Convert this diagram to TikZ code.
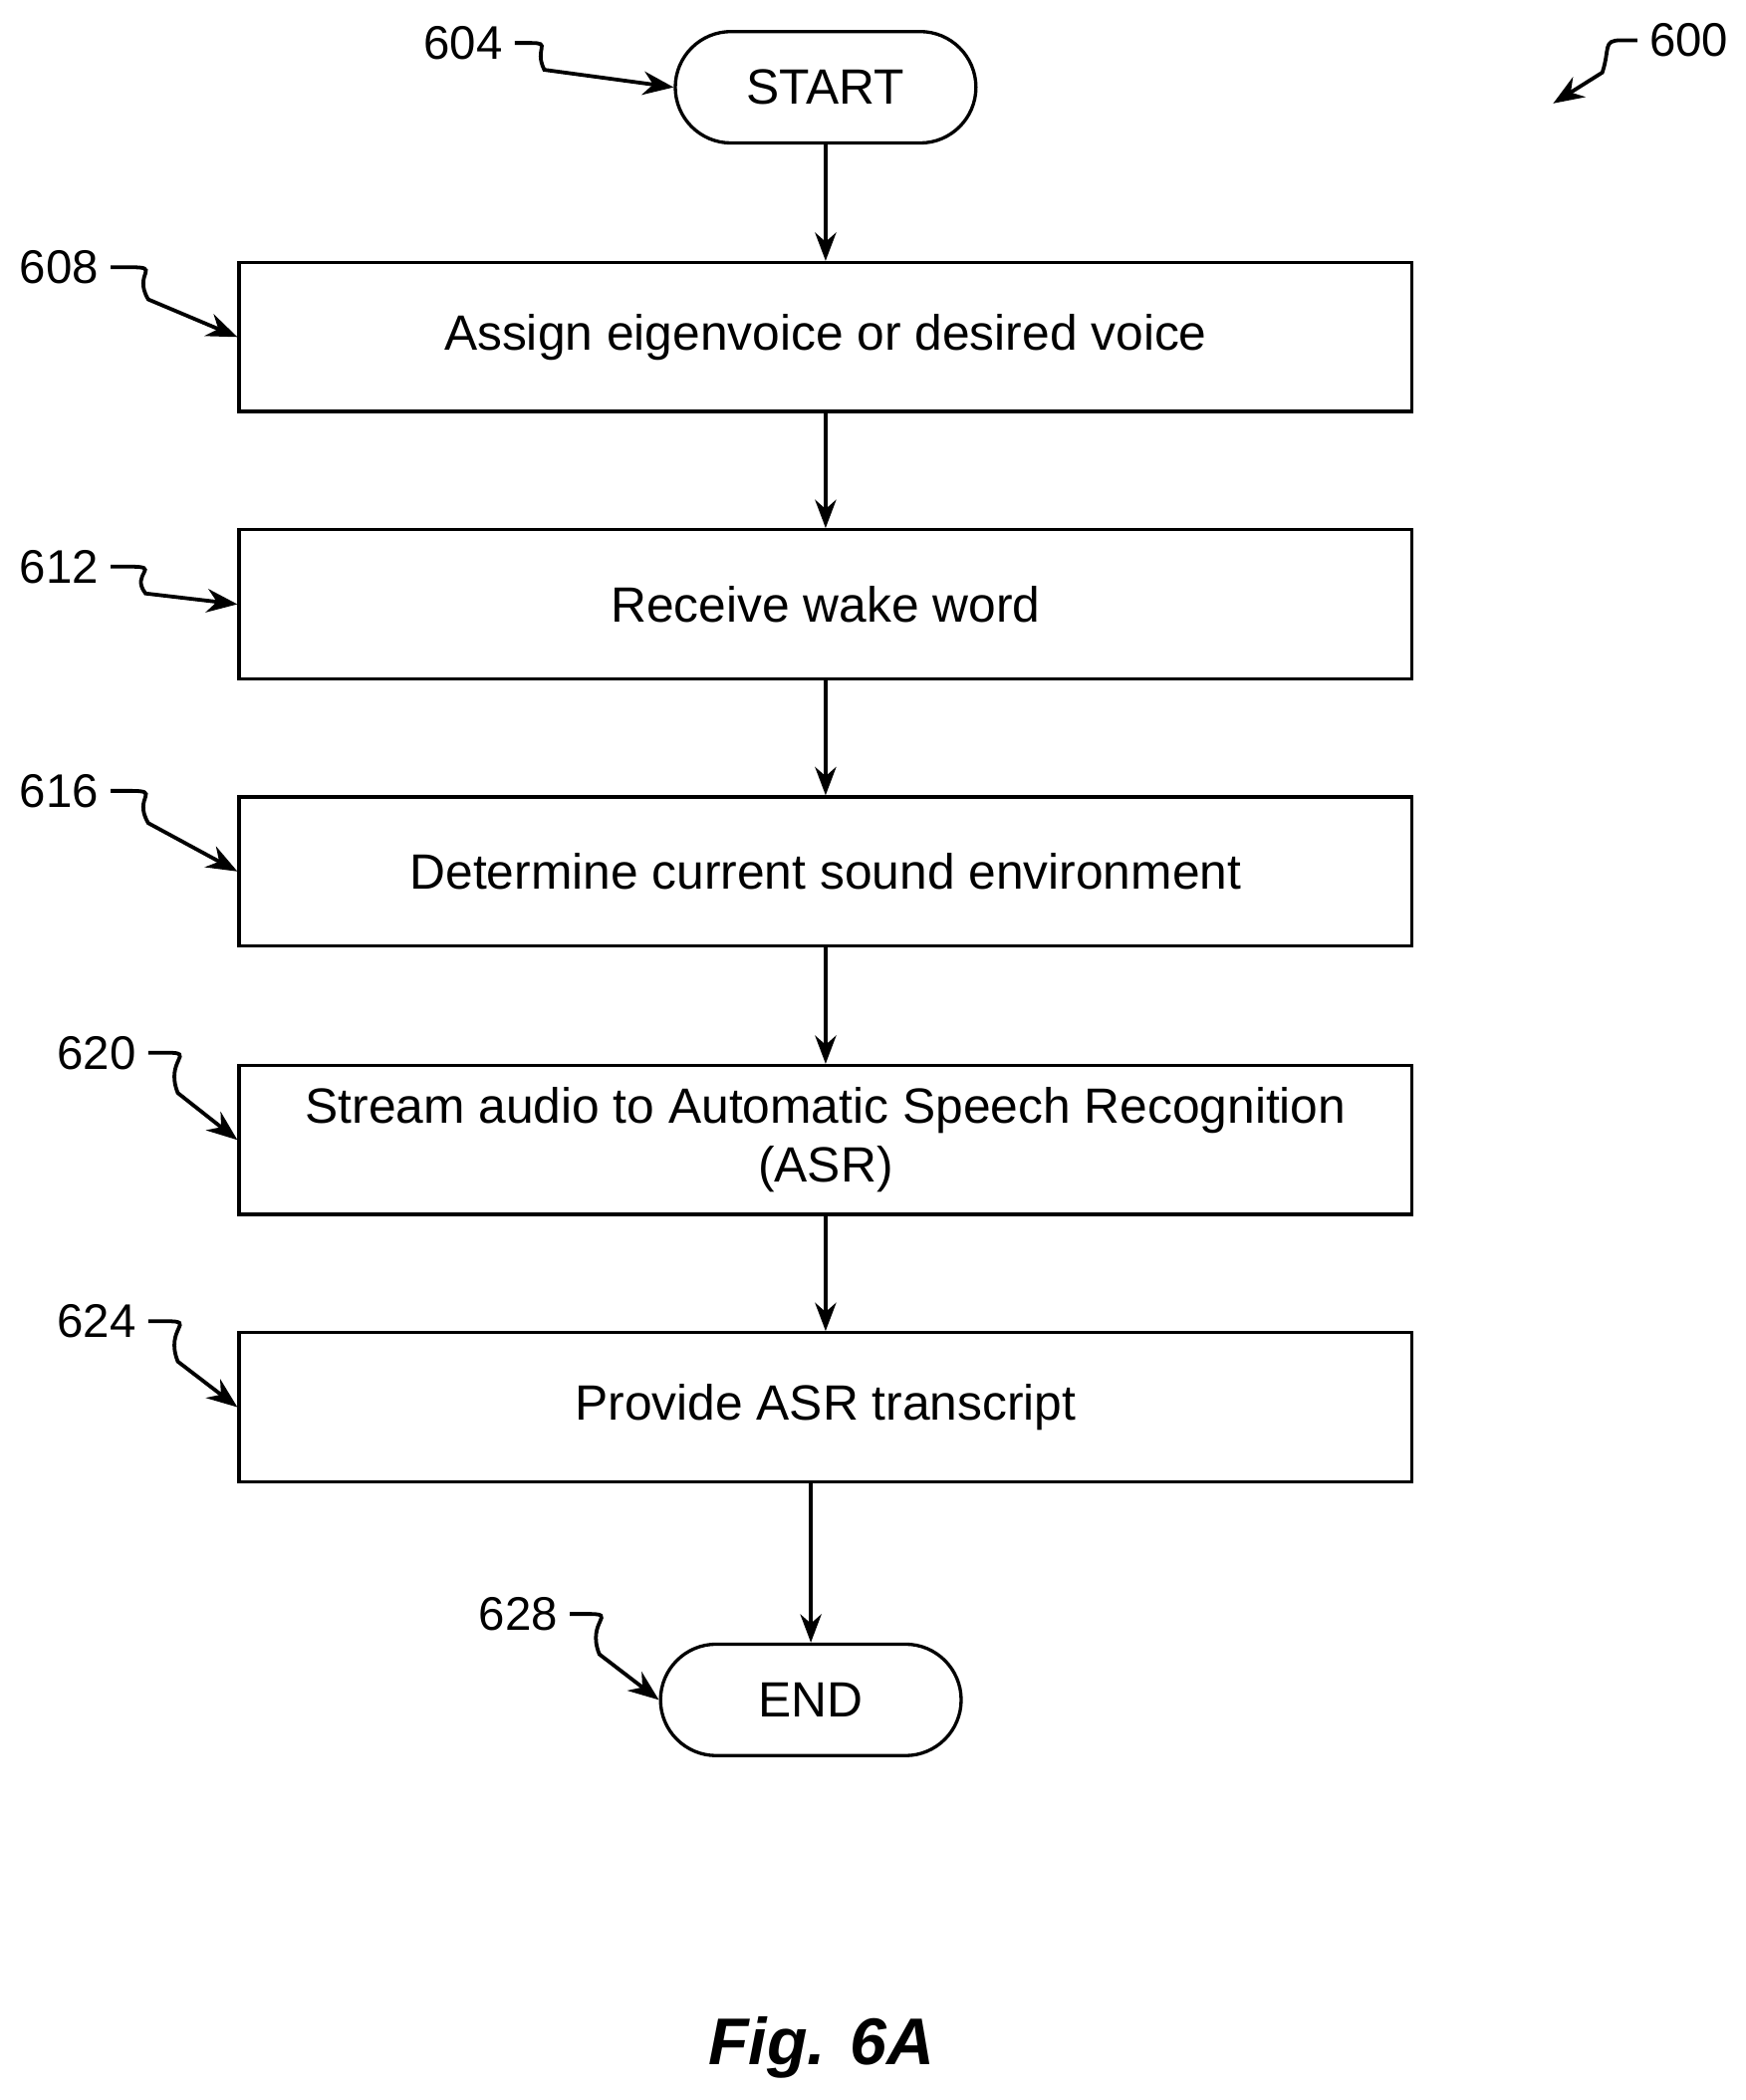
\documentclass[tikz,border=0pt]{standalone}
\usepackage{fontspec}
\setmainfont{Liberation Sans}
\usetikzlibrary{arrows.meta}

\tikzset{
  box/.style={draw, line width=1.4pt, minimum width=17.48cm, minimum height=2.22cm, align=center, font=\fontsize{21}{25}\selectfont},
  term/.style={draw, line width=1.4pt, rounded corners=0.83cm, minimum width=4.48cm, minimum height=1.66cm, font=\fontsize{21}{25}\selectfont},
  ref/.style={font=\fontsize{20}{24}\selectfont, inner sep=5pt},
  flow/.style={-{Stealth[length=12pt, width=9pt]}, line width=1.4pt},
  lead/.style={-{Stealth[length=13pt, width=10pt]}, line width=1.6pt}
}

\begin{document}
\begin{tikzpicture}[x=0.02cm, y=-0.02cm]
  \useasboundingbox (0,0) rectangle (1300,1564);

  % Terminals and steps
  \node[term] (start) at (615,65) {START};
  \node[box] (assign) at (615,251) {Assign eigenvoice or desired voice};
  \node[box] (wake) at (615,450) {Receive wake word};
  \node[box] (env) at (615,649) {Determine current sound environment};
  \node[box] (asr) at (615,849) {Stream audio to Automatic Speech Recognition\\(ASR)};
  \node[box] (trans) at (615,1048) {Provide ASR transcript};
  \node[term] (end) at (604,1266) {END};

  % Flow arrows
  \draw[flow] (start) -- (assign);
  \draw[flow] (assign) -- (wake);
  \draw[flow] (wake) -- (env);
  \draw[flow] (env) -- (asr);
  \draw[flow] (asr) -- (trans);
  \draw[flow] (trans.south -| end) -- (end);

  % Reference numerals
  \node[ref] (r600) at (1258,30) {600};
  \node[ref] (r604) at (345,32) {604};
  \node[ref] (r608) at (44,199) {608};
  \node[ref] (r612) at (44,422) {612};
  \node[ref] (r616) at (44,589) {616};
  \node[ref] (r620) at (72,784) {620};
  \node[ref] (r624) at (72,984) {624};
  \node[ref] (r628) at (386,1202) {628};
  \coordinate (p600) at (1157,77);

  % Lead lines
  \draw[lead] (r600.west) -- +(-12,0) .. controls +(-14,0) and +(6,-18) .. +(-26,24) -- (p600);
  \draw[lead] (r604.east) -- +(12,0) .. controls +(16,0) and +(-8,-16) .. +(22,20) -- (start.west);
  \draw[lead] (r608.east) -- +(14,0) .. controls +(25,0) and +(-12,-20) .. +(28,24) -- (assign.west);
  \draw[lead] (r612.east) -- +(14,0) .. controls +(25,0) and +(-12,-15) .. +(26,20) -- (wake.west);
  \draw[lead] (r616.east) -- +(14,0) .. controls +(25,0) and +(-12,-20) .. +(28,24) -- (env.west);
  \draw[lead] (r620.east) -- +(14,0) .. controls +(22,0) and +(-10,-25) .. +(22,30) -- (asr.west);
  \draw[lead] (r624.east) -- +(14,0) .. controls +(22,0) and +(-10,-25) .. +(22,30) -- (trans.west);
  \draw[lead] (r628.east) -- +(14,0) .. controls +(22,0) and +(-10,-25) .. +(22,30) -- (end.west);

  % Figure caption
  \node[font=\fontsize{28}{34}\selectfont\bfseries\itshape] (fig) at (612,1525) {Fig. 6A};
\end{tikzpicture}
\end{document}
